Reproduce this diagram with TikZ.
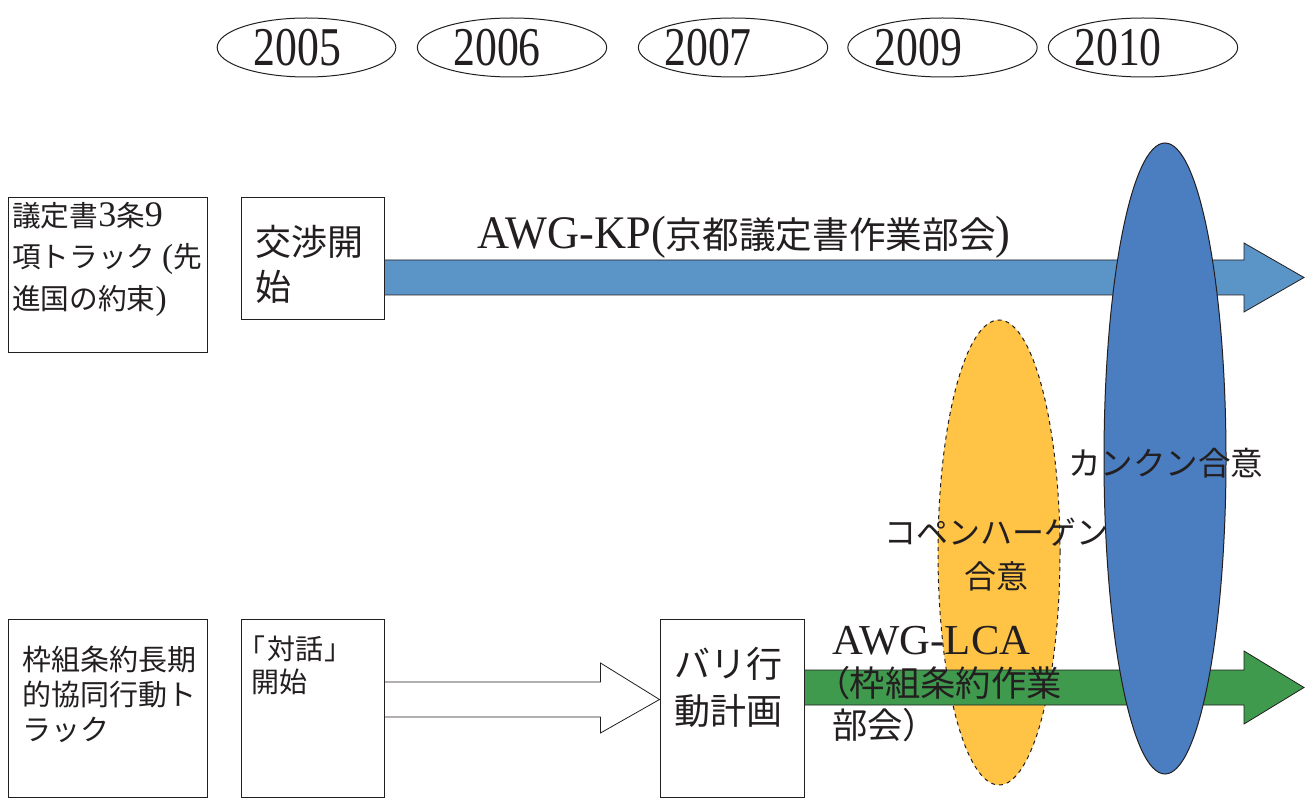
\documentclass[tikz,border=0pt]{standalone}
\usepackage{fontspec}
\setmainfont{Liberation Serif}
\newfontfamily\jp{Noto Sans CJK JP}
\newfontfamily\jpp[RawFeature=+palt]{Noto Sans CJK JP}
\newfontfamily\yr[FakeStretch=0.8]{Liberation Serif}
\newfontfamily\kp[FakeStretch=0.95]{Liberation Serif}
\usetikzlibrary{calc,shapes.geometric}
\definecolor{kpblue}{HTML}{5B94C6}
\definecolor{cnblue}{HTML}{4A7EC0}
\definecolor{lcagreen}{HTML}{3F9A4D}
\definecolor{cpyellow}{HTML}{FFC445}
\definecolor{ink}{HTML}{231F20}
\begin{document}
\begin{tikzpicture}[x=0.75pt,y=-0.75pt,
  year/.style={draw=ink, line width=0.75pt, ellipse, minimum height=44.25pt, inner sep=0pt},
  yeartxt/.style={inner sep=0pt, text=ink, font=\yr\fontsize{41}{41}\selectfont},
  box/.style={draw=ink, line width=0.75pt, fill=white, inner sep=0pt},
  txt/.style={anchor=north west, inner sep=0pt, align=left, text=ink},
  blockarrow/.style={draw=ink, line width=0.6pt, line join=miter}]
\useasboundingbox[fill=white] (0,0) rectangle (1314,798);

% years
\node[year, minimum width=134pt] (y2005) at (306.5,47.5) {};
\node[year, minimum width=142pt] (y2006) at (512,47.5) {};
\node[year, minimum width=142pt] (y2007) at (733,47.5) {};
\node[year, minimum width=142pt] (y2009) at (942.5,47.5) {};
\node[year, minimum width=142pt] (y2010) at (1143,47.5) {};
\node[yeartxt] (l2005) at ([shift={(-9,0)}]y2005.center) {2005};
\node[yeartxt] (l2006) at ([shift={(-15,0)}]y2006.center) {2006};
\node[yeartxt] (l2007) at ([shift={(-25,0)}]y2007.center) {2007};
\node[yeartxt] (l2009) at ([shift={(-24,0)}]y2009.center) {2009};
\node[yeartxt] (l2010) at ([shift={(-25,0)}]y2010.center) {2010};

% boxes
\node[box, minimum width=149.25pt, minimum height=116.25pt] (b1) at (107.5,275.5) {};
\node[box, minimum width=107.25pt, minimum height=91.5pt] (b2) at (312.5,259) {};
\node[box, minimum width=149.25pt, minimum height=133.5pt] (b3) at (107.5,708) {};
\node[box, minimum width=107.25pt, minimum height=133.5pt] (b4) at (312.5,708) {};
\node[box, minimum width=108pt, minimum height=133.5pt] (b5) at (732,708) {};

% box texts
\node[txt, font=\jp\fontsize{21.5}{31}\selectfont] (t1) at (12,202)
  {議定書{\rmfamily\fontsize{27}{31}\selectfont 3}条{\rmfamily\fontsize{27}{31}\selectfont 9}\\項トラック {\rmfamily\fontsize{25}{31}\selectfont (}先\\進国の約束{\rmfamily\fontsize{25}{31}\selectfont )}};
\node[txt, font=\jp\fontsize{27}{33.75}\selectfont] (t2) at (255,225) {交渉開\\始};
\node[txt, font=\jp\fontsize{21.75}{26.25}\selectfont] (t3) at (22,646) {枠組条約長期\\的協同行動ト\\ラック};
\node[txt, font=\jpp\fontsize{21}{24.5}\selectfont] (t4) at (251,636) {「\kern1.5pt 対話\kern1.5pt 」\\開始};
\node[txt, font=\jp\fontsize{27}{35}\selectfont] (t5) at (674,647) {バリ行\\動計画};

% yellow ellipse
\node[ellipse, draw=ink, dashed, line width=0.75pt, fill=cpyellow, minimum width=91.5pt,
  minimum height=348.75pt, inner sep=0pt] (cph) at (999,552.5) {};

% arrows
\coordinate (kpTip) at (1304,277.5);
\coordinate (lcaTip) at (1304,687.5);
\fill[kpblue, blockarrow] ([shift={(0,1)}]b2.east) -- ($(kpTip)+(-60,-17.5)$) -- ($(kpTip)+(-60,-34.5)$)
  -- (kpTip) -- ($(kpTip)+(-60,34.5)$) -- ($(kpTip)+(-60,17.5)$) -- ([shift={(0,36)}]b2.east) -- cycle;
\fill[lcagreen, blockarrow] ([shift={(0,-38)}]b5.east) -- ($(lcaTip)+(-60,-17.5)$) -- ($(lcaTip)+(-60,-36.5)$)
  -- (lcaTip) -- ($(lcaTip)+(-60,36.5)$) -- ($(lcaTip)+(-60,17.5)$) -- ([shift={(0,-3)}]b5.east) -- cycle;
\coordinate (wTip) at ([shift={(0,-8.5)}]b5.west);
\filldraw[fill=white, blockarrow] ([shift={(0,-26)}]b4.east) -- ($(wTip)+(-59,-17.5)$) -- ($(wTip)+(-59,-36.5)$)
  -- (wTip) -- ($(wTip)+(-59,33.5)$) -- ($(wTip)+(-59,17.5)$) -- ([shift={(0,9)}]b4.east) -- cycle;

% arrow labels
\node[anchor=base west, inner sep=0pt, text=ink] (kpl) at (477,249)
  {{\kp\fontsize{35}{35}\selectfont AWG-KP(}{\jp\fontsize{27.5}{30}\selectfont 京都議定書作業部会}{\kp\fontsize{35}{35}\selectfont )}};
\node[anchor=base west, inner sep=0pt, align=left, text=ink, font=\jp\fontsize{26.5}{31.5}\selectfont] (lcal) at (832,738)
  {{\rmfamily\fontsize{32}{31.5}\selectfont AWG-LCA}\\{\jpp （}枠組条約作業\\部会）};

\node[inner sep=0pt, align=center, text=ink, font=\jp\fontsize{24}{33}\selectfont] (cphl) at (996,555)
  {コペンハーゲン\\合意};

% blue ellipse
\node[ellipse, draw=ink, line width=0.75pt, fill=cnblue, minimum width=91.5pt,
  minimum height=473.25pt, inner sep=0pt] (ccn) at (1165,458.5) {};
\node[anchor=west, inner sep=0pt, text=ink, font=\jp\fontsize{24.4}{30}\selectfont] (ccnl) at (1068,463) {カンクン合意};
\end{tikzpicture}
\end{document}
